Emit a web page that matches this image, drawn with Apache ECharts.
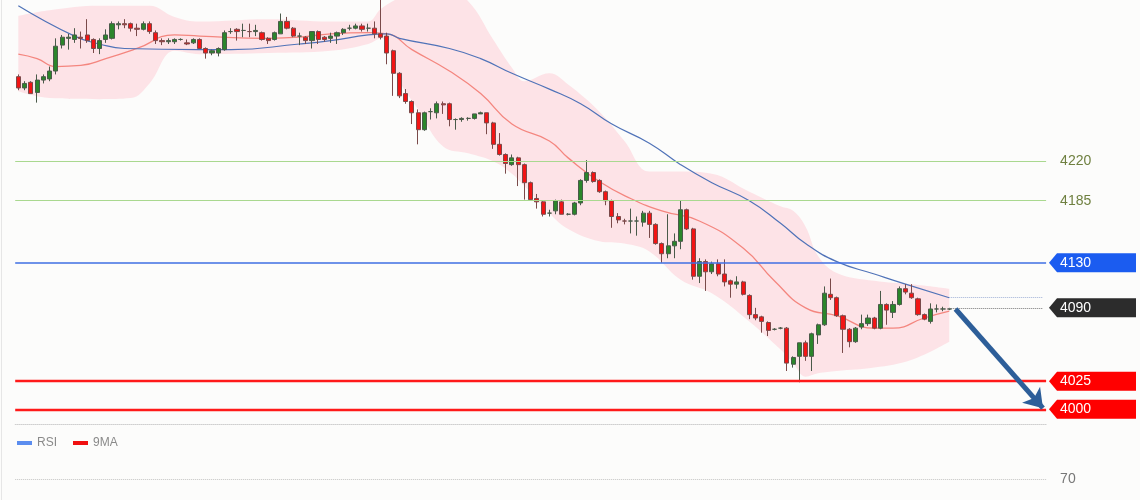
<!DOCTYPE html>
<html><head><meta charset="utf-8">
<script src="https://cdn.jsdelivr.net/npm/echarts@6/dist/echarts.min.js"></script>
<style>html,body{margin:0;padding:0;background:#fcfcfb}#c{width:1140px;height:500px}</style>
</head><body><div id="c"></div>
<script>
// OHLC: [open, close, low, high]
const candles = [
[4295,4285,4283,4297],[4285,4289,4283,4291],[4290,4280,4280,4291],[4281,4292,4272,4297],[4292,4295,4289,4297],
[4293,4300,4291,4304],[4300,4322,4297,4329],[4323,4330,4320,4332],[4329,4330,4319,4333],[4328,4332,4325,4338],
[4330,4329,4320,4335],[4332,4327,4325,4346],[4328,4320,4316,4329],[4320,4327,4315,4329],[4328,4332,4325,4337],
[4329,4342,4328,4344],[4341,4342,4337,4344],[4342,4341,4338,4346],[4342,4338,4335,4343],[4338,4337,4331,4342],
[4337,4342,4336,4344],[4342,4335,4333,4344],[4334,4327,4324,4336],[4327,4326,4323,4329],[4326,4327,4324,4329],
[4326,4328,4324,4329],[4328,4328,4327,4329],[4325,4324,4323,4328],[4325,4328,4324,4329],[4328,4320,4320,4329],
[4320,4316,4311,4321],[4316,4318,4314,4319],[4316,4320,4313,4321],[4319,4334,4318,4336],[4335,4335,4333,4338],
[4337,4335,4327,4338],[4336,4336,4330,4342],[4335,4335,4330,4342],[4335,4336,4331,4341],[4334,4328,4327,4335],
[4329,4327,4324,4330],[4328,4334,4327,4335],[4333,4344,4333,4351],[4344,4338,4337,4348],[4338,4331,4330,4339],
[4331,4331,4323,4334],[4330,4327,4324,4331],[4327,4335,4320,4335],[4335,4328,4324,4336],[4330,4328,4326,4331],
[4329,4331,4325,4334],[4331,4334,4324,4335],[4334,4337,4332,4338],[4338,4338,4336,4341],[4338,4340,4337,4342],
[4340,4337,4335,4342],[4338,4338,4335,4342],[4338,4333,4329,4344],[4333,4330,4328,4365],[4331,4316,4306,4334],
[4318,4298,4278,4319],[4298,4278,4276,4299],[4280,4273,4271,4284],[4273,4263,4253,4274],[4263,4248,4235,4266],
[4248,4263,4247,4264],[4264,4264,4257,4267],[4263,4271,4258,4273],[4271,4270,4262,4273],[4271,4257,4251,4272],
[4257,4257,4248,4258],[4257,4258,4255,4259],[4258,4258,4256,4259],[4258,4262,4257,4262],[4262,4263,4262,4264],
[4263,4254,4244,4263],[4254,4235,4231,4255],[4235,4226,4225,4245],[4226,4218,4209,4227],[4217,4223,4216,4226],
[4223,4217,4198,4224],[4217,4201,4186,4218],[4201,4186,4185,4202],[4187,4184,4178,4191],[4184,4173,4171,4185],
[4174,4174,4171,4177],[4176,4185,4173,4186],[4184,4173,4173,4186],[4173,4173,4172,4174],[4173,4183,4172,4184],
[4183,4203,4181,4204],[4203,4210,4201,4221],[4210,4202,4201,4211],[4203,4193,4192,4204],[4193,4185,4181,4194],
[4185,4171,4161,4186],[4171,4168,4165,4174],[4167,4167,4164,4169],[4167,4167,4156,4178],[4167,4167,4154,4171],
[4166,4174,4162,4176],[4174,4164,4152,4176],[4164,4147,4146,4165],[4147,4138,4130,4148],[4138,4145,4134,4173],
[4145,4149,4134,4156],[4149,4177,4142,4185],[4177,4160,4159,4178],[4160,4118,4115,4161],[4118,4131,4112,4134],
[4131,4122,4105,4133],[4122,4129,4120,4131],[4129,4120,4118,4133],[4120,4113,4109,4133],[4114,4111,4099,4115],
[4111,4113,4107,4118],[4113,4102,4101,4114],[4101,4084,4080,4102],[4084,4081,4079,4090],[4082,4078,4068,4083],
[4077,4070,4065,4078],[4071,4071,4070,4072],[4072,4072,4071,4073],[4072,4041,4034,4073],[4040,4046,4037,4047],
[4047,4059,4024,4059],[4059,4047,4043,4061],[4047,4067,4034,4068],[4066,4075,4058,4076],[4075,4103,4074,4109],
[4102,4099,4097,4116],[4099,4083,4082,4100],[4083,4071,4050,4084],[4071,4060,4055,4072],[4060,4072,4059,4073],
[4073,4076,4071,4084],[4076,4081,4074,4084],[4081,4072,4071,4082],[4072,4093,4071,4105],[4093,4088,4075,4094],
[4086,4093,4081,4096],[4093,4107,4092,4109],[4107,4104,4102,4111],[4103,4099,4098,4111],[4098,4084,4083,4099],
[4084,4080,4079,4085],[4078,4089,4076,4094],[4089,4089,4086,4093],[4089,4089,4087,4091],[4089,4089,4088,4090]
];

// Bollinger band, read at these candle positions
const bandIdx   = [0,5,13,18,21,25,29,40,50,56,58,61,64,68,72,76,79,81,85,88,93,97,101,106,111,117,122,124,126,128,131,137,143,149];
const bandUpper = [4349,4354,4358,4358,4358,4348,4344,4346,4344,4344,4355,4365,4371,4373,4362,4328,4303,4291,4298,4288,4264,4238,4211,4211,4209,4193,4180,4176,4162,4136,4121,4114,4111,4107];
const bandLower = [4282,4276,4275,4276,4289,4318,4315,4316,4318,4324,4329,4291,4266,4233,4227,4220,4209,4198,4174,4160,4149,4147,4140,4115,4103,4078,4053,4041,4029,4032,4034,4037,4044,4060];

// short moving average (red)
const maRedIdx = [0,3,6,10,14,19,25,29,40,45,50,56,59,63,69,74,79,85,88,93,98,103,109,116,121,126,131,137,140,145,149];
const maRed    = [4315,4311,4304,4305,4311,4320,4332,4331,4329,4330,4333,4334,4333,4319,4300,4280,4253,4238,4223,4202,4187,4176,4167,4143,4114,4090,4083,4072,4072,4081,4087];

// long moving average (blue)
const maBlueIdx = [0,9,13,17,29,34,45,50,56,59,61,69,74,79,85,90,95,101,106,111,117,122,126,131,137,142,149];
const maBlue    = [4358,4331,4324,4320,4319,4319,4324,4327,4332,4333,4329,4320,4311,4298,4284,4271,4253,4236,4217,4201,4185,4165,4147,4131,4120,4111,4099];

const guideLevels = [4220, 4185];
const resistanceLevel = 4130;
const pivotLevel = 4090;
const targetLevels = [4025, 4000];
const rsiLevel = 70;
const legendNames = ['RSI', '9MA'];
const padCategories = 15;

const nCat = candles.length + padCategories;
const categories = Array.from({length: nCat}, (_, i) => String(i));
const lastIdx = candles.length - 1;
const lastCat = nCat - 1;
const lastClose = candles[lastIdx][1];
const pair = (idx, vals) => idx.map((x, k) => [x, vals[k]]);
const FONT = '"Liberation Sans", Arial, sans-serif';

const chart = echarts.init(document.getElementById('c'));
const option = {
  backgroundColor: '#fcfcfb',
  animation: false,
  textStyle: {fontFamily: FONT},
  grid: [
    {left: 15.2, right: 93.9, top: 0, height: 424},
    {left: 15.2, right: 93.9, top: 459, bottom: 0}
  ],
  xAxis: [
    {type: 'category', data: categories, gridIndex: 0, boundaryGap: true,
     axisLine: {show: true, onZero: false, lineStyle: {color: '#cfcfcf', type: 'dotted', width: 1}},
     axisTick: {show: false}, axisLabel: {show: false}, splitLine: {show: false}},
    {type: 'category', data: categories, gridIndex: 1, show: false}
  ],
  yAxis: [
    {type: 'value', min: 3987, max: 4363, gridIndex: 0, show: false, splitLine: {show: false}},
    {type: 'value', min: 40, max: 100, gridIndex: 1, show: false, splitLine: {show: false}}
  ],
  legend: {
    left: 12, top: 432, icon: 'rect', itemWidth: 15, itemHeight: 4, itemGap: 16,
    selectedMode: false, data: legendNames,
    textStyle: {color: '#8a8a8a', fontSize: 12, fontFamily: FONT}
  },
  graphic: [
    {type: 'line', shape: {x1: 1.5, y1: 0, x2: 1.5, y2: 500}, style: {stroke: '#e6e6e6', lineWidth: 1}, silent: true}
  ],
  series: [
    {type: 'line', name: 'bbLower', data: pair(bandIdx, bandLower), stack: 'bb', smooth: 0.4,
     symbol: 'none', silent: true, lineStyle: {width: 0, opacity: 0}, z: 1},
    {type: 'line', name: 'bbWidth', data: pair(bandIdx, bandUpper.map((u, k) => u - bandLower[k])),
     stack: 'bb', smooth: 0.4, symbol: 'none', silent: true,
     lineStyle: {width: 0, opacity: 0}, areaStyle: {color: '#fde3e7', opacity: 1}, z: 1},
    {type: 'line', name: 'maRed', data: pair(maRedIdx, maRed), smooth: 0.5, symbol: 'none', silent: true,
     lineStyle: {color: '#f4867f', width: 1.3}, z: 2},
    {type: 'line', name: 'maBlue', data: pair(maBlueIdx, maBlue), smooth: 0.5, symbol: 'none', silent: true,
     lineStyle: {color: '#5073b8', width: 1.2}, z: 2},
    {type: 'candlestick', name: 'price', data: candles, barWidth: 4.6, z: 3,
     itemStyle: {color: '#2b862b', color0: '#f21414', borderColor: '#4a5a4a', borderColor0: '#7a4a4a', borderWidth: 1},
     markLine: {
       silent: true, symbol: ['none', 'none'], animation: false,
       data: [
         ...guideLevels.map(v => ({yAxis: v, lineStyle: {color: '#a9d88f', width: 1.2, type: 'solid'},
            label: {show: true, position: 'end', formatter: String(v), color: '#6f8040', fontSize: 14, distance: 14, fontFamily: FONT}})),
         {yAxis: resistanceLevel, lineStyle: {color: '#3f6fe3', width: 1.5, type: 'solid'}, label: {show: false}},
         ...targetLevels.map(v => ({yAxis: v, lineStyle: {color: '#ff1a1a', width: 2.4, type: 'solid'}, label: {show: false}})),
         [{coord: [lastIdx, pivotLevel], lineStyle: {color: '#777', width: 1, type: 'dotted'}, label: {show: false}},
          {coord: [lastCat, pivotLevel]}],
         [{coord: [maBlueIdx[maBlueIdx.length - 1], maBlue[maBlue.length - 1]], lineStyle: {color: '#9fb0d6', width: 1, type: 'dotted'}, label: {show: false}},
          {coord: [lastCat, maBlue[maBlue.length - 1]]}],
         [{coord: [lastIdx + 1, lastClose], symbol: 'none', lineStyle: {color: '#2d5e99', width: 5, type: 'solid'}, label: {show: false}},
          {coord: [lastCat, targetLevels[1] + 1], symbol: 'arrow', symbolSize: 18}]
       ]
     }},
    {name: 'RSI', type: 'line', xAxisIndex: 1, yAxisIndex: 1, data: [], symbol: 'none',
     itemStyle: {color: '#5b8def'}, lineStyle: {color: '#5b8def'},
     markLine: {silent: true, symbol: ['none', 'none'], animation: false,
       data: [{yAxis: rsiLevel}],
       lineStyle: {color: '#c4c4c4', type: 'dotted', width: 1},
       label: {show: true, position: 'end', formatter: String(rsiLevel), color: '#777', fontSize: 14, distance: 14, fontFamily: FONT}}},
    {name: '9MA', type: 'line', xAxisIndex: 1, yAxisIndex: 1, data: [], symbol: 'none',
     itemStyle: {color: '#f01010'}, lineStyle: {color: '#f01010'}}
  ]
};
chart.setOption(option);

const tags = [[resistanceLevel, '#1b5cf0'], [pivotLevel, '#2c2c2c'], [targetLevels[0], '#ff0000'], [targetLevels[1], '#ff0000']];
const tagGraphics = tags.map(([v, col]) => {
  const y = chart.convertToPixel({yAxisIndex: 0}, v);
  return {type: 'group', children: [
    {type: 'polygon', shape: {points: [[1049, y], [1057, y - 9.5], [1136, y - 9.5], [1136, y + 9.5], [1057, y + 9.5]]}, style: {fill: col}},
    {type: 'text', x: 1060, y: y, style: {text: String(v), fill: '#ffffff', fontSize: 14, fontFamily: FONT, verticalAlign: 'middle', align: 'left'}}
  ]};
});
chart.setOption({graphic: option.graphic.concat(tagGraphics)});
</script>
</body></html>
